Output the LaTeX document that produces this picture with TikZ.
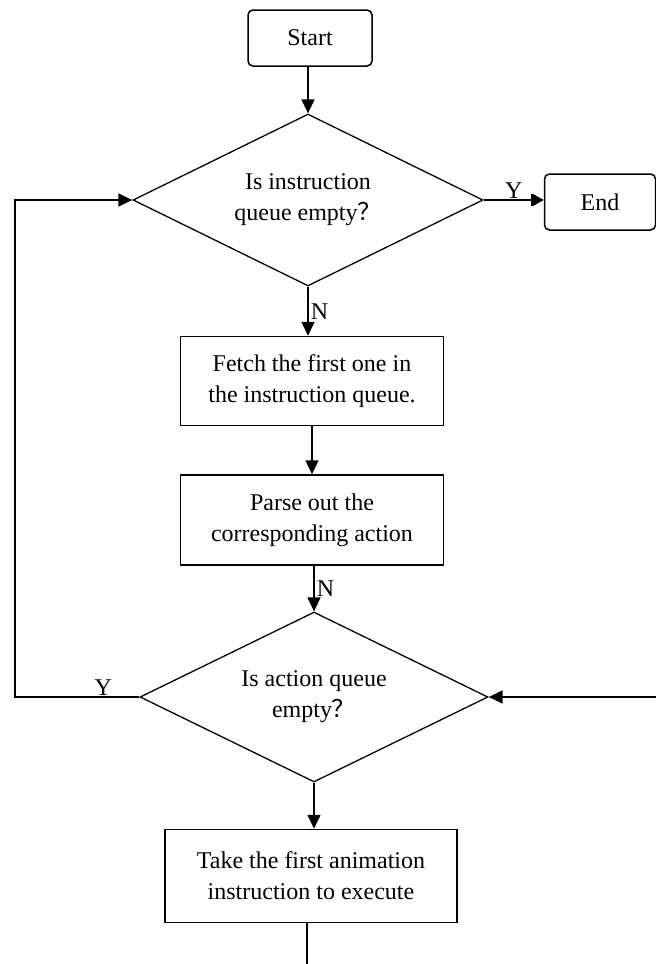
\documentclass[tikz,border=0pt]{standalone}
\usepackage{fontspec}
\setmainfont{Liberation Serif}
\newfontfamily\cjk{Noto Sans CJK SC}
\usetikzlibrary{shapes.geometric,arrows.meta}

\tikzset{
  flow/.style={line width=1.5pt, -{Triangle[length=14pt,width=13pt]}},
  plain/.style={line width=1.5pt},
  terminal/.style={draw, line width=1.5pt, rounded corners=5pt, align=center},
  process/.style={draw, line width=1.5pt, align=center},
  decision/.style={draw, line width=1.3pt, diamond, aspect=2.2, align=center, inner sep=0pt}
}

\begin{document}
\begin{tikzpicture}[x=1pt, y=-1pt, font=\fontsize{24}{31}\selectfont]
\useasboundingbox (0,0) rectangle (656,964);

% nodes
\node [terminal, minimum width=124pt, minimum height=56pt] (start) at (310,38) {Start};
\node [decision, minimum width=350pt, minimum height=172pt] (qempty) at (308,200) {Is instruction\\queue empty\cjk{？}};
\node [terminal, minimum width=111pt, minimum height=56pt] (stop) at (600,202) {End};
\node [process, minimum width=263pt, minimum height=89pt] (fetch) at (312,381) {Fetch the first one in\\the instruction queue.};
\node [process, minimum width=263pt, minimum height=90pt] (parse) at (312,520) {Parse out the\\corresponding action};
\node [decision, minimum width=348pt, minimum height=170pt] (aempty) at (314,697) {Is action queue\\empty\cjk{？}};
\node [process, minimum width=292pt, minimum height=93pt] (take) at (311,876) {Take the first animation\\instruction to execute};

% free ends
\coordinate (loopx) at (15,0);
\coordinate (back) at (656,697);
\coordinate (down) at (307,964);

% connectors
\draw [flow] (start.south -| qempty.north) -- (qempty.north);
\draw [plain, -{Bar[width=12pt,line width=2pt] Triangle[length=11pt,width=12pt]}] (qempty.east) -- node [above, inner sep=1pt] {Y} (qempty.east -| stop.west);
\draw [flow] (qempty.south) -- node [right, inner sep=2pt] {N} (fetch.north -| qempty.south);
\draw [flow] (fetch) -- (parse);
\draw [flow] (parse.south -| aempty.north) -- node [right, inner sep=2pt] {N} (aempty.north);
\draw [flow] (aempty.west) -- node [above, pos=0.29, inner sep=1pt] {Y} (aempty.west -| loopx) |- (qempty.west);
\draw [flow] (back) -- (aempty.east);
\draw [flow] (aempty.south) -- (take.north -| aempty.south);
\draw [plain] (take.south -| down) -- (down);
\end{tikzpicture}
\end{document}
